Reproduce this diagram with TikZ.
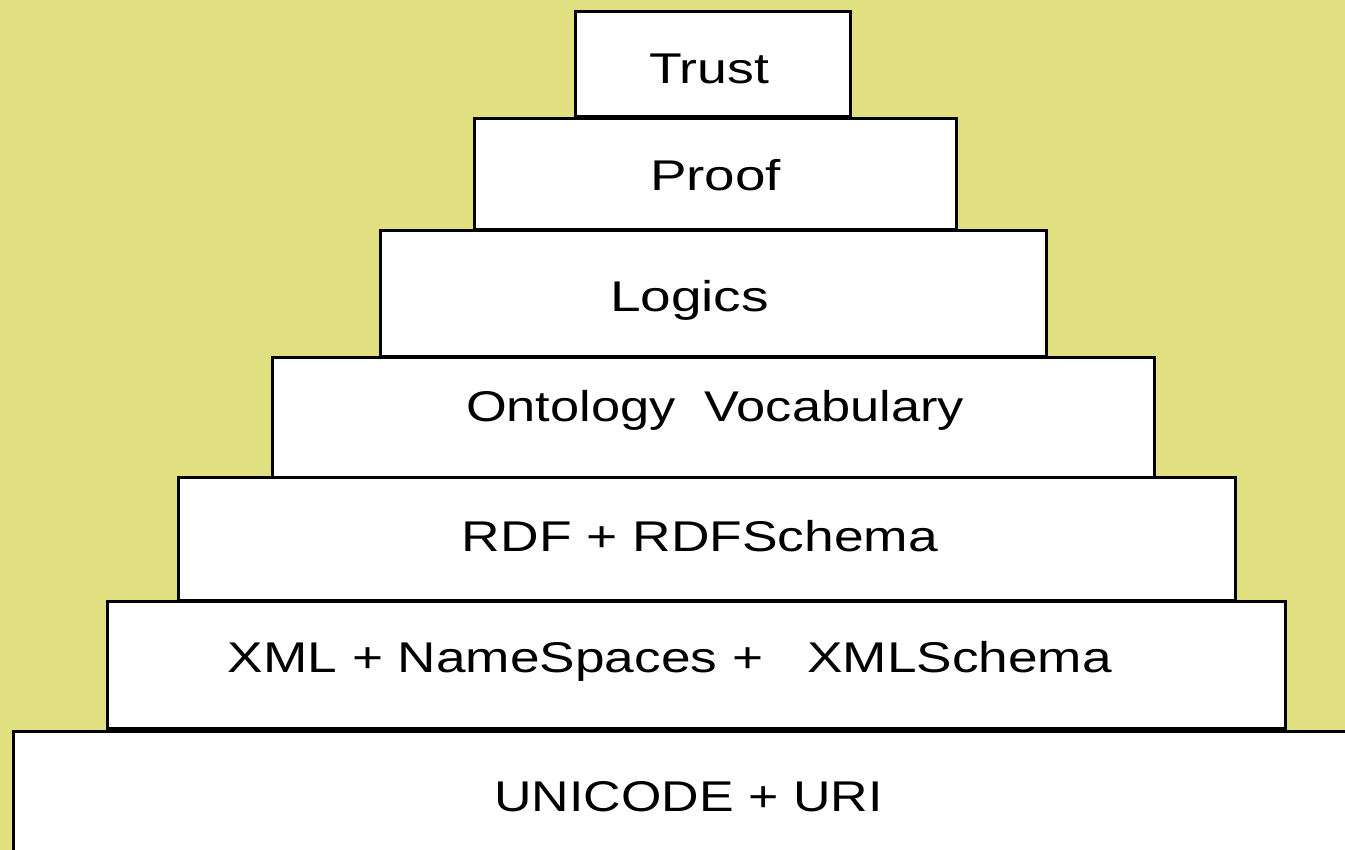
\documentclass[tikz,border=0pt]{standalone}
\usepackage{fontspec}
\setmainfont{Liberation Sans}
\usepackage{graphicx}
\definecolor{bgolive}{RGB}{224,224,128}
\newcommand{\fitw}[2]{\resizebox{#1}{\height}{#2}}
\tikzset{
  layerbox/.style={draw=black, fill=white, line width=3pt, inner sep=0pt, rectangle},
  layertext/.style={anchor=base, inner sep=0pt, font=\fontsize{43pt}{43pt}\selectfont, text=black}
}
\begin{document}
\begin{tikzpicture}[x=1pt, y=-1pt]
\useasboundingbox (0,0) rectangle (1345,850);
\clip (0,0) rectangle (1345,850);
\fill[bgolive] (0,0) rectangle (1345,850);
% boxes, top to bottom
\node[layerbox, minimum width=275pt, minimum height=105pt] (trust) at (713,64) {};
\node[layerbox, minimum width=482pt, minimum height=111pt] (proof) at (715.5,174) {};
\node[layerbox, minimum width=666pt, minimum height=126pt] (logics) at (713.5,293.5) {};
\node[layerbox, minimum width=882pt, minimum height=122pt] (onto) at (713.5,418.5) {};
\node[layerbox, minimum width=1057pt, minimum height=123pt] (rdf) at (707,539) {};
\node[layerbox, minimum width=1178pt, minimum height=127pt] (xml) at (696.5,665) {};
\node[layerbox, minimum width=1335pt, minimum height=128pt] (uni) at (681,795) {};
% labels
\node[layertext] (trustlbl) at (709,84) {\fitw{120pt}{Trust}};
\node[layertext] (prooflbl) at (715.5,191) {\fitw{131pt}{Proof}};
\node[layertext] (logicslbl) at (689.5,312) {\fitw{159pt}{Logics}};
\node[layertext] (ontolbl) at (715,421) {\fitw{498pt}{Ontology\ \ Vocabulary}};
\node[layertext] (rdflbl) at (700,551) {\fitw{476pt}{RDF + RDFSchema}};
\node[layertext] (xmllbl) at (670,672) {\fitw{884pt}{XML + NameSpaces +\ \ \ XMLSchema}};
\node[layertext] (unilbl) at (688.5,811) {\fitw{388pt}{UNICODE + URI}};
\end{tikzpicture}
\end{document}
